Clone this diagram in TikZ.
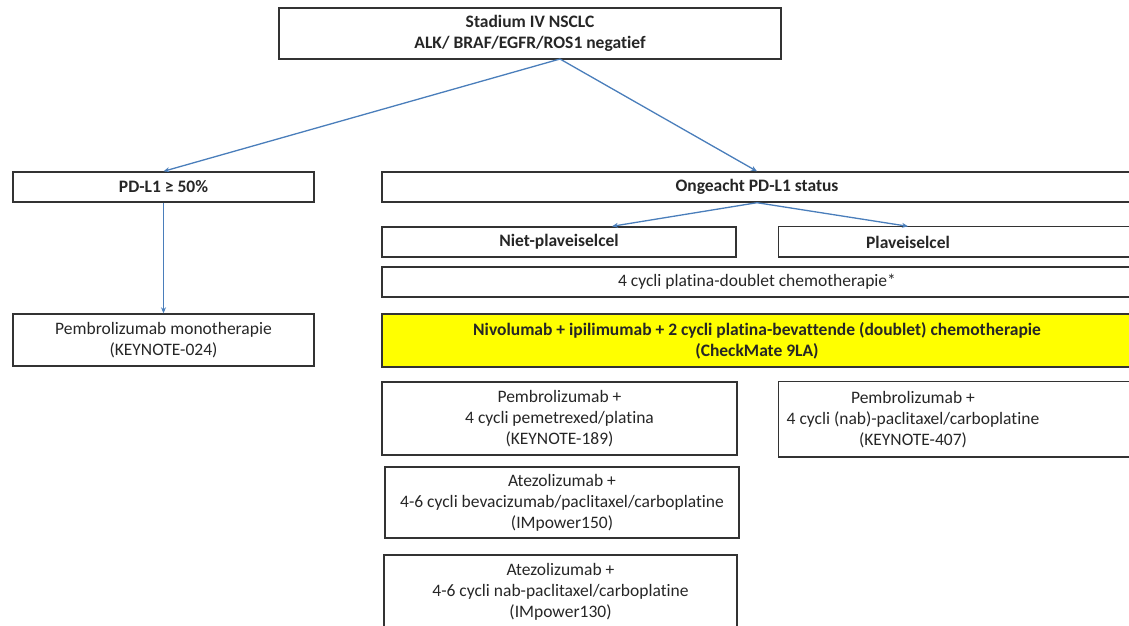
\documentclass[tikz,border=0pt]{standalone}
\usepackage{fontspec}
\setmainfont[Ligatures=NoCommon]{Carlito}
\usetikzlibrary{calc,arrows.meta}
\definecolor{boxgray}{HTML}{333333}
\definecolor{linkblue}{HTML}{4A7EBB}
\definecolor{markyellow}{HTML}{FFFF00}
\tikzset{
  box/.style={draw=boxgray, line width=1.4pt, inner sep=0pt, align=center,
    font=\fontsize{17.5}{21}\selectfont, text=black!85},
  openbox/.style={box, draw=none},
  boxline/.style={draw=boxgray, line width=1.4pt},
  link/.style={draw=linkblue, line width=1.3pt, -{Stealth[length=6pt,width=5pt]}}
}
\begin{document}
\begin{tikzpicture}[x=1pt, y=-1pt]
    \useasboundingbox (0,0) rectangle (1129,625);
    % top:
    \node[box, minimum width=502pt, minimum height=51pt] (stage) at (530,33.5)
        {\bfseries Stadium IV NSCLC\\ \bfseries ALK/ BRAF/EGFR/ROS1 negatief};
    \coordinate (split) at (560,59);
    % left branch:
    \node[box, minimum width=301pt, minimum height=30pt] (pdl) at (163.5,187) {\bfseries PD-L1 ≥ 50\%};
    \node[box, minimum width=301pt, minimum height=52pt] (mono) at (163.5,340)
        {Pembrolizumab monotherapie\\ (KEYNOTE-024)};
    % right branch:
    \node[box, minimum width=750pt, minimum height=30pt] (ong) at (757,187) {\bfseries Ongeacht PD-L1 status};
    \node[box, minimum width=354pt, minimum height=30pt] (niet) at (559,242) {\bfseries Niet-plaveiselcel};
    \node[openbox, minimum width=258pt, minimum height=30pt] (plav) at (908,242) {\bfseries Plaveiselcel};
    \draw[boxline] (plav.north west) rectangle (1135,257);
    \node[box, minimum width=750pt, minimum height=30pt] (chemo) at (757,282)
        {4 cycli platina-doublet chemotherapie*};
    \node[box, fill=markyellow, minimum width=750pt, minimum height=53pt] (nivo) at (757,340.5)
        {\bfseries Nivolumab + ipilimumab + 2 cycli platina-bevattende (doublet) chemotherapie\\ \bfseries (CheckMate 9LA)};
    \node[box, minimum width=355pt, minimum height=73pt] (k189) at (559.5,418.5)
        {Pembrolizumab +\\ 4 cycli pemetrexed/platina\\ (KEYNOTE-189)};
    \node[openbox, minimum width=268pt, minimum height=75pt] (k407) at (913,419.5)
        {Pembrolizumab +\\ 4 cycli (nab)-paclitaxel/carboplatine\\ (KEYNOTE-407)};
    \draw[boxline] (k407.north west) rectangle (1135,457);
    \node[box, minimum width=354pt, minimum height=71pt] (imp150) at (562,502.5)
        {Atezolizumab +\\ 4-6 cycli bevacizumab/paclitaxel/carboplatine\\ (IMpower150)};
    \node[box, minimum width=353pt, minimum height=73pt] (imp130) at (560.5,591.5)
        {Atezolizumab +\\ 4-6 cycli nab-paclitaxel/carboplatine\\ (IMpower130)};
    % arrows:
    \draw[link] (split) -- (pdl.north);
    \draw[link] (split) -- (ong.north);
    \draw[link] (pdl.south) -- (mono.north);
    \draw[link] (ong.south) -- ($(niet.north)+(53,0)$);
    \draw[link] (ong.south) -- (plav.north);
\end{tikzpicture}
\end{document}
